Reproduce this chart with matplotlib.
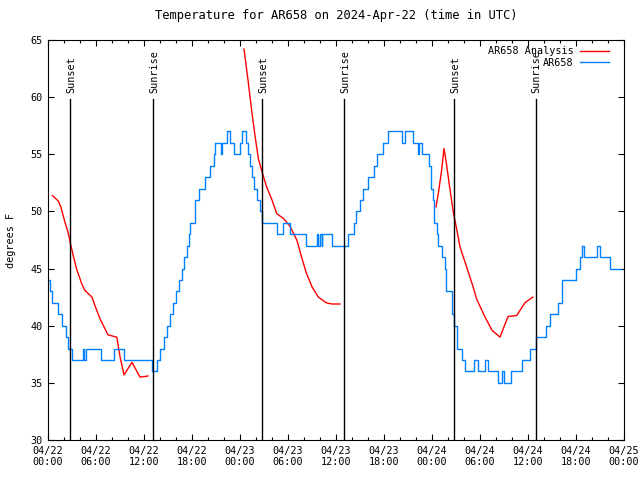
import matplotlib
matplotlib.use('Agg')
import matplotlib.pyplot as plt
import numpy as np

# hours since 2024-04-22 00:00 UTC
obs_t = [0.0, 0.25, 0.5, 1.25, 1.7, 2.2, 2.5, 2.95, 4.4, 4.5, 4.75, 6.6, 8.25, 9.5,
         13.0, 13.6, 14.0, 14.5, 14.9, 15.3, 15.6, 16.0, 16.4, 16.8, 17.0, 17.4, 17.6,
         17.8, 18.4, 18.9, 19.6, 20.25, 20.7, 20.9, 21.6, 21.8, 22.4, 22.75, 23.3,
         24.0, 24.3, 24.8, 25.0, 25.25, 25.5, 25.75, 26.1, 26.5, 26.8, 28.6, 29.4,
         30.2, 32.25, 33.6, 33.8, 34.0, 34.2, 34.3, 35.5, 37.5, 38.2, 38.5, 39.0,
         39.4, 40.0, 40.7, 41.1, 41.9, 42.5, 44.3, 44.6, 45.6, 46.3, 46.4, 46.8,
         47.6, 47.9, 48.1, 48.3, 48.6, 48.8, 49.2, 49.6, 49.8, 50.5, 50.7, 51.1,
         51.7, 52.1, 53.2, 53.7, 54.6, 55.0, 56.3, 56.7, 57.0, 57.9, 59.3, 60.3,
         60.95, 62.25, 62.75, 63.8, 64.3, 66.0, 66.5, 66.8, 67.0, 68.6, 69.0, 70.3,
         71.6]
obs_v = [44, 43, 42, 41, 40, 39, 38, 37, 38, 37, 38, 37, 38, 37,
         36, 37, 38, 39, 40, 41, 42, 43, 44, 45, 46, 47, 48,
         49, 51, 52, 53, 54, 55, 56, 55, 56, 57, 56, 55,
         56, 57, 56, 55, 54, 53, 52, 51, 50, 49, 48, 49,
         48, 47, 48, 47, 48, 47, 48, 47, 48, 49, 50, 51,
         52, 53, 54, 55, 56, 57, 56, 57, 56, 55, 56, 55,
         54, 52, 51, 49, 48, 47, 46, 45, 43, 41, 40, 38,
         37, 36, 37, 36, 37, 36, 35, 36, 35, 36, 37, 38,
         39, 40, 41, 42, 44, 45, 46, 47, 46, 47, 46, 45,
         45]

ana1_t = [0.54, 1.3, 1.6, 2.1, 2.5, 2.8, 3.2, 3.6, 4.2, 4.6, 5.5, 5.9, 6.5, 7.5,
          8.6, 9.0, 9.5, 10.5, 11.5, 12.5]
ana1_v = [51.4, 50.9, 50.4, 49.1, 48.2, 47.2, 46.0, 44.9, 43.7, 43.1, 42.5, 41.7,
          40.6, 39.2, 39.0, 37.3, 35.7, 36.8, 35.5, 35.6]
ana2_t = [24.5, 25.0, 25.5, 25.9, 26.3, 26.7, 27.3, 28.0, 28.6, 29.4, 30.25, 31.1,
          31.7, 32.3, 33.0, 33.8, 34.8, 35.5, 36.5]
ana2_v = [64.2, 61.5, 58.6, 56.5, 54.6, 53.6, 52.2, 51.0, 49.8, 49.4, 48.7, 47.5,
          46.0, 44.6, 43.4, 42.5, 42.0, 41.9, 41.9]
ana3_t = [48.5, 48.8, 49.2, 49.5, 49.8, 50.25, 50.7, 51.1, 51.5, 52.3, 53.0, 53.6,
          54.6, 55.5, 56.5, 57.5, 58.6, 59.6, 60.6]
ana3_v = [50.4, 51.6, 53.6, 55.5, 54.2, 51.9, 49.8, 48.4, 46.9, 45.2, 43.7, 42.3,
          40.8, 39.6, 39.0, 40.8, 40.9, 42.0, 42.5]

sun_t = [2.8, 13.15, 26.8, 37.05, 50.8, 61.0]
sun_lbl = ['Sunset', 'Sunrise', 'Sunset', 'Sunrise', 'Sunset', 'Sunrise']

xtick_pos = [0, 6, 12, 18, 24, 30, 36, 42, 48, 54, 60, 66, 72]
xtick_lbl = ['04/22\n00:00', '04/22\n06:00', '04/22\n12:00', '04/22\n18:00',
             '04/23\n00:00', '04/23\n06:00', '04/23\n12:00', '04/23\n18:00',
             '04/24\n00:00', '04/24\n06:00', '04/24\n12:00', '04/24\n18:00',
             '04/25\n00:00']

plt.rcParams['font.family'] = ['DejaVu Sans Mono']
plt.rcParams['font.size'] = 7.3

fig = plt.figure(figsize=(6.4, 4.8), dpi=100)
ax = fig.add_axes([48/640, 40/480, 576/640, 400/480])

red = '#ff0000'
blue = '#0080ff'
ax.plot(ana1_t, ana1_v, color=red, lw=1, label='AR658 Analysis')
ax.plot(ana2_t, ana2_v, color=red, lw=1)
ax.plot(ana3_t, ana3_v, color=red, lw=1)
ax.plot(obs_t, obs_v, color=blue, lw=1, drawstyle='steps-post', label='AR658')

for t, s in zip(sun_t, sun_lbl):
    ax.plot([t, t], [30, 59.8], color='black', lw=1)
    ax.text(t + 0.1, 60.4, s, rotation=90, ha='center', va='bottom')

ax.set_xlim(0, 72)
ax.set_ylim(30, 65)
ax.set_xticks(xtick_pos)
ax.set_xticklabels(xtick_lbl)
ax.set_xticks(np.arange(0, 73, 2), minor=True)
ax.set_yticks([30, 35, 40, 45, 50, 55, 60, 65])
ax.tick_params(direction='in', top=True, right=True, length=4.5, width=0.8, pad=4)
ax.tick_params(which='minor', direction='in', top=True, length=2.2, width=0.8)
for sp in ax.spines.values():
    sp.set_linewidth(0.8)

ax.set_ylabel('degrees F', labelpad=10)
ax.set_title('Temperature for AR658 on 2024-Apr-22 (time in UTC)', pad=15)

ax.legend(loc='upper right', frameon=False, markerfirst=False, handlelength=2.9,
          borderaxespad=0.2, labelspacing=0.15, handletextpad=0.6,
          bbox_to_anchor=(0.985, 1.0))

fig.savefig('out.png', dpi=100)
